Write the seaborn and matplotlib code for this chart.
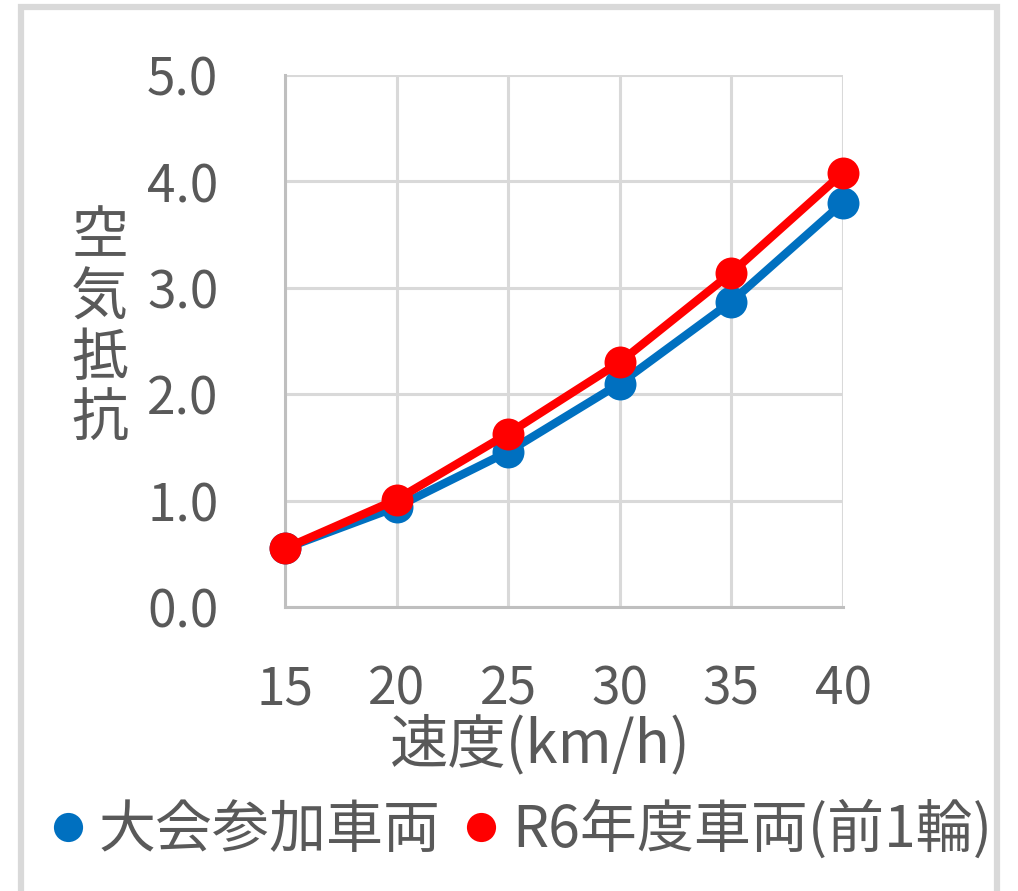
import pandas as pd
import matplotlib.pyplot as plt
import seaborn as sns
from matplotlib.lines import Line2D
from matplotlib.patches import Rectangle

# speed (km/h) and air resistance
speed = [15, 20, 25, 30, 35, 40]
taikai = [0.55, 0.94, 1.46, 2.10, 2.87, 3.80]
r6 = [0.55, 1.01, 1.63, 2.30, 3.14, 4.08]
series_names = ["大会参加車両", "R6年度車両(前1輪)"]
colors = ["#0070C0", "#FF0000"]
yticks = [0.0, 1.0, 2.0, 3.0, 4.0, 5.0]

df = pd.DataFrame({
    "speed": speed * 2,
    "value": taikai + r6,
    "series": [series_names[0]] * len(speed) + [series_names[1]] * len(speed),
})

sns.set_style("white")
plt.rcParams["font.family"] = ["Noto Sans CJK JP", "DejaVu Sans"]
text_col = "#595959"

fig = plt.figure(figsize=(10.18, 8.91), dpi=100)
ax = fig.add_axes([285 / 1018, 1 - 607 / 891, 558 / 1018, 532 / 891])

sns.lineplot(data=df, x="speed", y="value", hue="series", hue_order=series_names,
             palette=colors, marker="o", markersize=23, markeredgewidth=0,
             linewidth=6, legend=False, clip_on=False, zorder=5, ax=ax)

ax.set_xlim(15, 40)
ax.set_ylim(0, 5)
ax.set_xticks(speed)
ax.set_yticks(yticks)
ax.set_yticklabels([f"{v:.1f}" for v in yticks])
ax.grid(True, color="#D9D9D9", linewidth=2.2)
ax.set_axisbelow(True)
for s in ["top", "right"]:
    ax.spines[s].set_visible(False)
for s in ["left", "bottom"]:
    ax.spines[s].set_color("#BFBFBF")
    ax.spines[s].set_linewidth(2.2)
ax.tick_params(axis="both", length=0, labelsize=37, labelcolor=text_col)
ax.tick_params(axis="y", pad=48)
ax.tick_params(axis="x", pad=40)

ax.set_xlabel("速度(km/h)", fontsize=42, color=text_col, va="center")
ax.xaxis.set_label_coords(0.457, -0.261)
ax.set_ylabel("空\n気\n抵\n抗", fontsize=41, color=text_col, rotation=0,
              ha="center", va="center", linespacing=1.05)
ax.yaxis.set_label_coords(-0.332, 0.524)

handles = [Line2D([], [], linestyle="none", marker="o", markersize=21,
                  markerfacecolor=c, markeredgewidth=0) for c in colors]
fig.legend(handles, series_names, loc="center", bbox_to_anchor=(0.512, 0.068),
           ncol=2, frameon=False, fontsize=41, labelcolor=text_col,
           handlelength=0.6, handletextpad=0.25, columnspacing=0.4, borderpad=0)

# light gray chart frame like the spreadsheet export
fig.patches.append(Rectangle((21 / 1018, -0.1), 976 / 1018, 1.1 - 7 / 891,
                             transform=fig.transFigure, fill=False,
                             edgecolor="#D9D9D9", linewidth=4.5))

fig.savefig("out.png", dpi=100)
